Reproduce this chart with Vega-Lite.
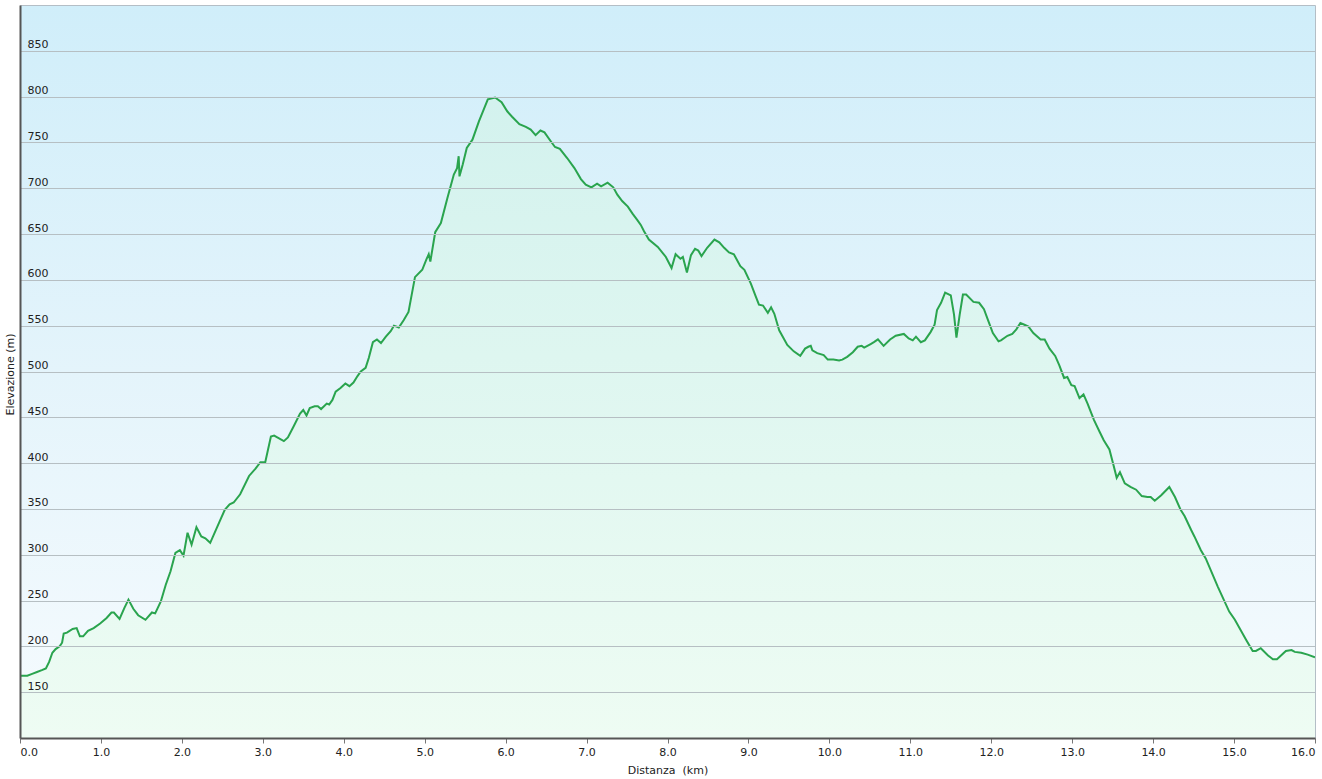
{
  "$schema": "https://vega.github.io/schema/vega-lite/v6.json",
  "width": 1295,
  "height": 733,
  "autosize": {"type": "none"},
  "padding": {"left": 20, "top": 5, "right": 7, "bottom": 41},
  "background": "#ffffff",
  "config": {
    "view": {
      "stroke": "#b4bec6",
      "strokeWidth": 1,
      "fill": {"gradient": "linear", "x1": 0, "y1": 0, "x2": 0, "y2": 1,
        "stops": [{"offset": 0, "color": "#d0eefa"}, {"offset": 0.5, "color": "#e4f4fb"}, {"offset": 1, "color": "#f6fbfe"}]}
    },
    "axis": {"labelFont": "DejaVu Sans", "titleFont": "DejaVu Sans", "labelFontSize": 11, "titleFontSize": 11, "labelColor": "#222222", "titleColor": "#222222", "titleFontWeight": "normal"}
  },
  "data": {"values": [
    {"km":0.00,"ele":168},{"km":0.09,"ele":168},{"km":0.15,"ele":170},{"km":0.21,"ele":172},{"km":0.27,"ele":174},{"km":0.32,"ele":176},{"km":0.36,"ele":183},{"km":0.40,"ele":193},{"km":0.44,"ele":197},{"km":0.49,"ele":200},{"km":0.52,"ele":204},{"km":0.54,"ele":214},{"km":0.58,"ele":215},{"km":0.65,"ele":219},{"km":0.70,"ele":220},{"km":0.74,"ele":211},{"km":0.78,"ele":211},{"km":0.84,"ele":217},{"km":0.91,"ele":220},{"km":0.99,"ele":225},
    {"km":1.07,"ele":231},{"km":1.13,"ele":237},{"km":1.16,"ele":237},{"km":1.23,"ele":230},{"km":1.29,"ele":242},{"km":1.34,"ele":251},{"km":1.40,"ele":241},{"km":1.46,"ele":234},{"km":1.55,"ele":229},{"km":1.63,"ele":237},{"km":1.67,"ele":236},{"km":1.74,"ele":249},{"km":1.80,"ele":267},{"km":1.86,"ele":282},{"km":1.92,"ele":302},{"km":1.975,"ele":305},
    {"km":2.02,"ele":299},{"km":2.07,"ele":324},{"km":2.12,"ele":311},{"km":2.18,"ele":330},{"km":2.24,"ele":320},{"km":2.29,"ele":318},{"km":2.35,"ele":313},{"km":2.46,"ele":335},{"km":2.53,"ele":349},{"km":2.59,"ele":355},{"km":2.64,"ele":357},{"km":2.72,"ele":366},{"km":2.83,"ele":386},{"km":2.91,"ele":394},{"km":2.97,"ele":401},
    {"km":3.03,"ele":401},{"km":3.10,"ele":429},{"km":3.14,"ele":430},{"km":3.26,"ele":424},{"km":3.31,"ele":428},{"km":3.38,"ele":440},{"km":3.46,"ele":454},{"km":3.50,"ele":458},{"km":3.54,"ele":452},{"km":3.58,"ele":460},{"km":3.64,"ele":462},{"km":3.68,"ele":462},{"km":3.72,"ele":459},{"km":3.79,"ele":465},{"km":3.82,"ele":464},{"km":3.86,"ele":469},{"km":3.90,"ele":478},{"km":3.96,"ele":482},
    {"km":4.02,"ele":487},{"km":4.07,"ele":484},{"km":4.12,"ele":488},{"km":4.17,"ele":495},{"km":4.21,"ele":500},{"km":4.27,"ele":504},{"km":4.31,"ele":515},{"km":4.36,"ele":532},{"km":4.41,"ele":535},{"km":4.46,"ele":531},{"km":4.52,"ele":538},{"km":4.58,"ele":544},{"km":4.62,"ele":550},{"km":4.68,"ele":548},{"km":4.74,"ele":556},{"km":4.80,"ele":565},{"km":4.88,"ele":603},{"km":4.97,"ele":611},
    {"km":5.02,"ele":622},{"km":5.05,"ele":628},{"km":5.07,"ele":620},{"km":5.13,"ele":652},{"km":5.20,"ele":662},{"km":5.28,"ele":689},{"km":5.36,"ele":715},{"km":5.40,"ele":722},{"km":5.42,"ele":735},{"km":5.43,"ele":713},{"km":5.47,"ele":726},{"km":5.52,"ele":744},{"km":5.59,"ele":753},{"km":5.67,"ele":773},{"km":5.73,"ele":786},{"km":5.78,"ele":797},{"km":5.87,"ele":799},{"km":5.95,"ele":794},
    {"km":6.02,"ele":784},{"km":6.08,"ele":778},{"km":6.17,"ele":770},{"km":6.25,"ele":767},{"km":6.31,"ele":764},{"km":6.37,"ele":758},{"km":6.43,"ele":763},{"km":6.48,"ele":761},{"km":6.56,"ele":751},{"km":6.61,"ele":745},{"km":6.67,"ele":743},{"km":6.76,"ele":733},{"km":6.85,"ele":722},{"km":6.93,"ele":710},{"km":6.99,"ele":704},
    {"km":7.06,"ele":701},{"km":7.13,"ele":705},{"km":7.18,"ele":702},{"km":7.26,"ele":706},{"km":7.33,"ele":701},{"km":7.38,"ele":693},{"km":7.44,"ele":686},{"km":7.51,"ele":680},{"km":7.57,"ele":672},{"km":7.63,"ele":665},{"km":7.67,"ele":660},{"km":7.71,"ele":653},{"km":7.77,"ele":644},{"km":7.88,"ele":636},{"km":7.98,"ele":625},
    {"km":8.05,"ele":613},{"km":8.10,"ele":628},{"km":8.16,"ele":623},{"km":8.19,"ele":625},{"km":8.24,"ele":608},{"km":8.29,"ele":627},{"km":8.34,"ele":634},{"km":8.38,"ele":632},{"km":8.42,"ele":626},{"km":8.49,"ele":635},{"km":8.58,"ele":644},{"km":8.64,"ele":641},{"km":8.70,"ele":635},{"km":8.76,"ele":630},{"km":8.82,"ele":628},{"km":8.90,"ele":615},{"km":8.95,"ele":611},
    {"km":9.03,"ele":596},{"km":9.09,"ele":582},{"km":9.13,"ele":573},{"km":9.18,"ele":572},{"km":9.24,"ele":564},{"km":9.28,"ele":570},{"km":9.32,"ele":563},{"km":9.38,"ele":545},{"km":9.48,"ele":529},{"km":9.56,"ele":522},{"km":9.64,"ele":517},{"km":9.70,"ele":525},{"km":9.74,"ele":527},{"km":9.77,"ele":528},{"km":9.79,"ele":523},{"km":9.85,"ele":520},{"km":9.93,"ele":518},{"km":9.98,"ele":513},
    {"km":10.05,"ele":513},{"km":10.12,"ele":512},{"km":10.16,"ele":513},{"km":10.22,"ele":516},{"km":10.29,"ele":521},{"km":10.35,"ele":527},{"km":10.40,"ele":528},{"km":10.43,"ele":526},{"km":10.51,"ele":530},{"km":10.55,"ele":532},{"km":10.60,"ele":535},{"km":10.67,"ele":528},{"km":10.75,"ele":535},{"km":10.82,"ele":539},{"km":10.92,"ele":541},{"km":10.98,"ele":536},
    {"km":11.03,"ele":534},{"km":11.07,"ele":538},{"km":11.13,"ele":532},{"km":11.18,"ele":534},{"km":11.25,"ele":543},{"km":11.30,"ele":551},{"km":11.33,"ele":567},{"km":11.38,"ele":575},{"km":11.43,"ele":586},{"km":11.50,"ele":583},{"km":11.54,"ele":562},{"km":11.57,"ele":537},{"km":11.61,"ele":562},{"km":11.65,"ele":584},{"km":11.69,"ele":584},{"km":11.78,"ele":576},{"km":11.85,"ele":575},{"km":11.91,"ele":568},{"km":11.96,"ele":556},
    {"km":12.02,"ele":542},{"km":12.09,"ele":533},{"km":12.12,"ele":534},{"km":12.20,"ele":539},{"km":12.26,"ele":541},{"km":12.31,"ele":546},{"km":12.36,"ele":553},{"km":12.41,"ele":551},{"km":12.46,"ele":549},{"km":12.52,"ele":542},{"km":12.61,"ele":535},{"km":12.66,"ele":535},{"km":12.72,"ele":525},{"km":12.79,"ele":517},{"km":12.84,"ele":507},{"km":12.90,"ele":493},{"km":12.94,"ele":494},{"km":12.99,"ele":485},
    {"km":13.03,"ele":484},{"km":13.09,"ele":471},{"km":13.14,"ele":475},{"km":13.19,"ele":465},{"km":13.27,"ele":447},{"km":13.34,"ele":434},{"km":13.39,"ele":425},{"km":13.46,"ele":415},{"km":13.51,"ele":398},{"km":13.55,"ele":384},{"km":13.59,"ele":390},{"km":13.65,"ele":378},{"km":13.72,"ele":374},{"km":13.79,"ele":371},{"km":13.86,"ele":364},{"km":13.93,"ele":363},{"km":13.97,"ele":363},
    {"km":14.02,"ele":359},{"km":14.10,"ele":365},{"km":14.20,"ele":374},{"km":14.27,"ele":363},{"km":14.34,"ele":349},{"km":14.39,"ele":342},{"km":14.47,"ele":327},{"km":14.51,"ele":320},{"km":14.59,"ele":305},{"km":14.65,"ele":296},{"km":14.80,"ele":265},{"km":14.94,"ele":238},
    {"km":15.01,"ele":229},{"km":15.15,"ele":207},{"km":15.23,"ele":195},{"km":15.27,"ele":195},{"km":15.33,"ele":198},{"km":15.42,"ele":190},{"km":15.48,"ele":186},{"km":15.53,"ele":186},{"km":15.58,"ele":190},{"km":15.64,"ele":195},{"km":15.71,"ele":196},{"km":15.75,"ele":194},{"km":15.83,"ele":193},{"km":15.91,"ele":191},{"km":16.00,"ele":188}
  ]},
  "mark": {
    "type": "area",
    "interpolate": "linear",
    "opacity": 1,
    "clip": true,
    "color": {"gradient": "linear", "x1": 0, "y1": 0, "x2": 0, "y2": 1,
      "stops": [{"offset": 0, "color": "#d3f2ee"}, {"offset": 1, "color": "#eefcf3"}]},
    "line": {"color": "#2aa44e", "strokeWidth": 2}
  },
  "encoding": {
    "x": {
      "field": "km", "type": "quantitative",
      "scale": {"domain": [0, 16], "nice": false, "zero": false},
      "axis": {
        "title": "Distanza \u00a0(km)",
        "values": [0,1,2,3,4,5,6,7,8,9,10,11,12,13,14,15,16],
        "format": ".1f",
        "labelFlush": true,
        "labelOverlap": false,
        "grid": false,
        "domainColor": "#555555", "domainWidth": 2,
        "tickColor": "#777777", "tickSize": 5, "tickWidth": 1,
        "labelPadding": 3,
        "titleY": 26, "titleBaseline": "top",
        "zindex": 1
      }
    },
    "y": {
      "field": "ele", "type": "quantitative",
      "scale": {"domain": [100, 900], "nice": false, "zero": false},
      "axis": {
        "title": "Elevazione (m)",
        "values": [150,200,250,300,350,400,450,500,550,600,650,700,750,800,850],
        "grid": true, "gridColor": "#b6bfc3", "gridWidth": 1,
        "ticks": false, "tickSize": 0,
        "domainColor": "#555555", "domainWidth": 2,
        "labelAlign": "left", "labelPadding": -7, "labelBaseline": "alphabetic", "labelOffset": -3,
        "labelOverlap": false,
        "titleX": -5, "titleY": 369, "titleBaseline": "bottom", "titleAngle": 270,
        "zindex": 1
      }
    },
    "y2": {"datum": 100}
  }
}
